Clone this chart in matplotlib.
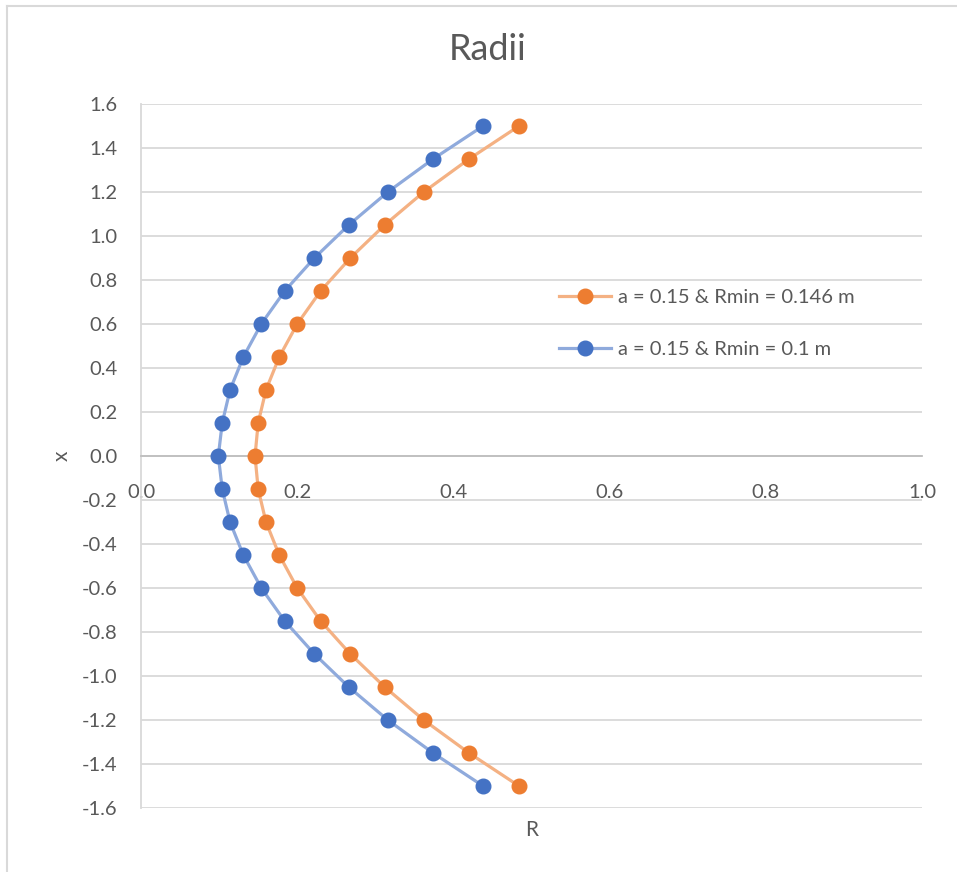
import matplotlib.pyplot as plt
from matplotlib.lines import Line2D

# data
x_vals = [-1.5, -1.35, -1.2, -1.05, -0.9, -0.75, -0.6, -0.45, -0.3, -0.15, 0.0,
          0.15, 0.3, 0.45, 0.6, 0.75, 0.9, 1.05, 1.2, 1.35, 1.5]
r_146 = [0.484, 0.420, 0.362, 0.312, 0.268, 0.230, 0.200, 0.177, 0.160, 0.150, 0.146,
         0.150, 0.160, 0.177, 0.200, 0.230, 0.268, 0.312, 0.362, 0.420, 0.484]
r_100 = [0.438, 0.374, 0.316, 0.266, 0.222, 0.184, 0.154, 0.131, 0.114, 0.104, 0.099,
         0.104, 0.114, 0.131, 0.154, 0.184, 0.222, 0.266, 0.316, 0.374, 0.438]
y_ticks = [-1.6, -1.4, -1.2, -1.0, -0.8, -0.6, -0.4, -0.2, 0.0,
           0.2, 0.4, 0.6, 0.8, 1.0, 1.2, 1.4, 1.6]
x_ticks = [0.0, 0.2, 0.4, 0.6, 0.8, 1.0]

plt.rcParams['font.family'] = ['Lato', 'DejaVu Sans']
txt = '#595959'

W, H = 957, 872
fig = plt.figure(figsize=(W / 100, H / 100), dpi=100)
ax = fig.add_axes([141 / W, 1 - 808 / H, (922 - 141) / W, (808 - 104) / H])

ax.plot(r_146, x_vals, color='#F4B183', lw=2.3, zorder=3)
ax.plot(r_146, x_vals, 'o', color='#ED7D31', ms=10.5, zorder=4)
ax.plot(r_100, x_vals, color='#8FAADC', lw=2.3, zorder=3)
ax.plot(r_100, x_vals, 'o', color='#4472C4', ms=10.5, zorder=4)

ax.set_xlim(0, 1.0)
ax.set_ylim(-1.6, 1.6)
ax.set_yticks(y_ticks)
ax.set_yticklabels(['%.1f' % v for v in y_ticks])
ax.set_xticks(x_ticks)
ax.set_xticklabels(['%.1f' % v for v in x_ticks])
ax.grid(axis='y', color='#d9d9d9', lw=1.3)
ax.set_axisbelow(True)

for s in ['top', 'right']:
    ax.spines[s].set_visible(False)
ax.spines['left'].set_color('#d9d9d9')
ax.spines['left'].set_linewidth(1.3)
ax.spines['bottom'].set_position(('data', 0))
ax.spines['bottom'].set_color('#bfbfbf')
ax.spines['bottom'].set_linewidth(1.3)
ax.tick_params(length=0, labelsize=14.5, colors=txt)
ax.tick_params(axis='y', pad=17)
ax.tick_params(axis='x', pad=20)

fig.text(532 / W, 1 - 830 / H, 'R', ha='center', va='center', fontsize=15, color=txt)
fig.text(62 / W, 1 - 456 / H, 'x', ha='center', va='center', fontsize=15,
         color=txt, rotation=90)
fig.text(488 / W, 1 - 50 / H, 'Radii', ha='center', va='center', fontsize=26, color=txt)

handles = [
    Line2D([], [], color='#F4B183', lw=2.3, marker='o', ms=10.5,
           markerfacecolor='#ED7D31', markeredgecolor='#ED7D31'),
    Line2D([], [], color='#8FAADC', lw=2.3, marker='o', ms=10.5,
           markerfacecolor='#4472C4', markeredgecolor='#4472C4'),
]
leg = ax.legend(handles, ['a = 0.15 & Rmin = 0.146 m', 'a = 0.15 & Rmin = 0.1 m'],
                loc='center left', bbox_to_anchor=((541 - 141) / (922 - 141), (808 - 323.5) / 704),
                frameon=False, fontsize=14.5, handlelength=2.6, handletextpad=0.3,
                labelspacing=1.7, labelcolor=txt)

# light chart border (left and top visible)
fig.add_artist(Line2D([7.5 / W, 7.5 / W], [0, 1 - 6 / H], color='#d9d9d9', lw=1.5))
fig.add_artist(Line2D([7.5 / W, 1], [1 - 6 / H, 1 - 6 / H], color='#d9d9d9', lw=1.5))

fig.savefig('out.png', dpi=100, facecolor='white')
